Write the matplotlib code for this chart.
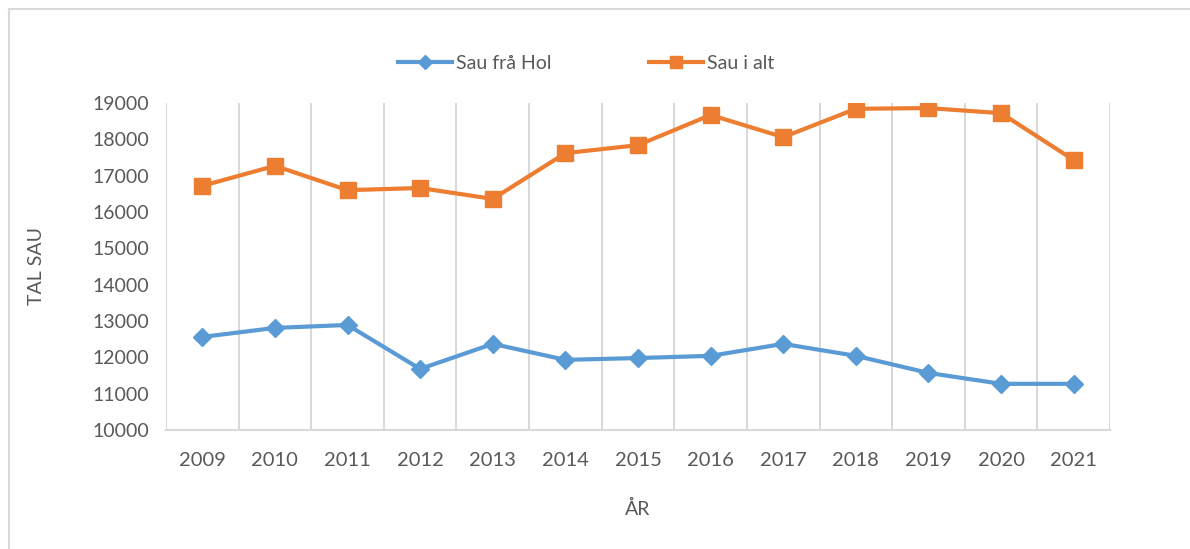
import numpy as np
import matplotlib.pyplot as plt
from matplotlib.ticker import FixedLocator

# data
years = ["2009", "2010", "2011", "2012", "2013", "2014", "2015",
         "2016", "2017", "2018", "2019", "2020", "2021"]
sau_fra_hol = [12560, 12810, 12890, 11680, 12370, 11930, 11980,
               12040, 12370, 12040, 11570, 11270, 11270]
sau_i_alt = [16720, 17270, 16600, 16660, 16360, 17620, 17840,
             18670, 18060, 18840, 18860, 18720, 17430]

blue = "#5B9BD5"
orange = "#ED7D31"
text_col = "#595959"
grid_col = "#D9D9D9"

plt.rcParams['font.family'] = ['Lato', 'DejaVu Sans']

fig = plt.figure(figsize=(11.9, 5.49), dpi=100)
ax = fig.add_axes([0.1395, 0.2168, 0.7933, 0.5956])

x = np.arange(len(years))
ax.plot(x, sau_fra_hol, color=blue, lw=3, marker="D", markersize=9,
        label="Sau frå Hol")
ax.plot(x, sau_i_alt, color=orange, lw=3, marker="s", markersize=12,
        label="Sau i alt")

ax.set_xlim(-0.5, len(years) - 0.5)
ax.set_ylim(10000, 19000)
ax.set_yticks(range(10000, 19001, 1000))
ax.set_xticks(x)
ax.set_xticklabels(years)
ax.xaxis.set_minor_locator(FixedLocator(np.arange(-0.5, len(years), 1)))
ax.grid(which="minor", axis="x", color=grid_col, lw=1.5)
ax.tick_params(which="both", length=0)
ax.tick_params(axis="y", labelsize=14, labelcolor=text_col, pad=12)
ax.tick_params(axis="x", labelsize=14.5, labelcolor=text_col, pad=16)

for s in ["top", "right", "left"]:
    ax.spines[s].set_visible(False)
ax.spines["bottom"].set_color(grid_col)
ax.spines["bottom"].set_linewidth(1.5)

ax.set_ylabel("TAL SAU", fontsize=14, color=text_col, labelpad=34)
ax.set_xlabel("ÅR", fontsize=14, color=text_col, labelpad=22)

ax.legend(loc="center", bbox_to_anchor=(0.445, 1.12), ncol=2,
          frameon=False, fontsize=14, labelcolor=text_col,
          handlelength=2.8, columnspacing=5, markerscale=0.75,
          handletextpad=0.2)

# thin grey frame on the left and top like the source image
fig.add_artist(plt.Line2D([0.0076, 0.0076], [0, 0.984], color=grid_col,
                          lw=1.5, transform=fig.transFigure))
fig.add_artist(plt.Line2D([0.0076, 1], [0.984, 0.984], color=grid_col,
                          lw=1.5, transform=fig.transFigure))

fig.savefig("out.png", dpi=100)
